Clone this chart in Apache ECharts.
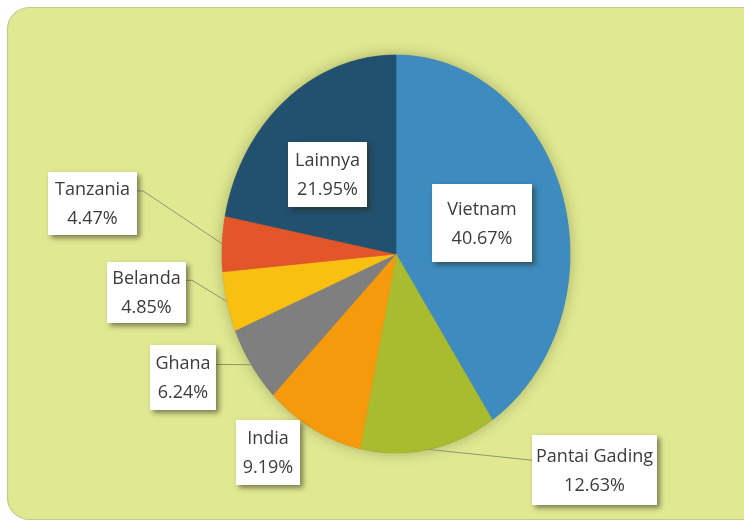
<!DOCTYPE html>
<html>
<head>
<meta charset="utf-8">
<script src="https://cdn.jsdelivr.net/npm/echarts@6/dist/echarts.min.js"></script>
<style>
  html, body { margin: 0; padding: 0; background: #ffffff; }
  #chart { width: 744px; height: 524px; }
</style>
</head>
<body>
<div id="chart"></div>
<script>
// Share of import origins (percent), clockwise from 12 o'clock
const countries = ['Vietnam', 'Pantai Gading', 'India', 'Ghana', 'Belanda', 'Tanzania', 'Lainnya'];
const shares = [40.67, 12.63, 9.19, 6.24, 4.85, 4.47, 21.95];

// Slice colours, same order as the countries
const palette = ['#3e8cbf', '#a9bb2f', '#f59a0c', '#7f7f80', '#f9c012', '#e2562a', '#22506f'];

// Label boxes: [left, top, width, height]; leader: 'left' / 'right' edge of the box, or none
const labelBoxes = [
  { box: [432, 184, 100, 78] },
  { box: [532, 435, 125, 70], leader: 'left' },
  { box: [236, 420, 64, 65] },
  { box: [150, 345, 66, 65], leader: 'right' },
  { box: [107, 262, 79, 61], leader: 'right' },
  { box: [48, 172, 89, 63], leader: 'right' },
  { box: [288, 142, 79, 65] }
];

// Elliptical pie geometry
const CX = 396, CY = 254, RX = 174, RY = 199;
const total = shares.reduce((a, b) => a + b, 0);
const starts = [];
shares.reduce((acc, v, i) => { starts[i] = acc; return acc + v; }, 0);

function ellipsePoint(t) {
  // t: angle in radians, clockwise from the top
  return [CX + RX * Math.sin(t), CY - RY * Math.cos(t)];
}

const FONT = '18px "Open Sans", "Noto Sans", sans-serif';

function renderSlice(params, api) {
  const i = params.dataIndex;
  const a0 = starts[i] / total * Math.PI * 2;
  const a1 = (starts[i] + api.value(1)) / total * Math.PI * 2;
  const steps = Math.max(8, Math.ceil((a1 - a0) / 0.01));
  const pts = [[CX, CY]];
  for (let k = 0; k <= steps; k++) pts.push(ellipsePoint(a0 + (a1 - a0) * k / steps));
  return {
    type: 'polygon',
    shape: { points: pts },
    style: { fill: palette[i], stroke: palette[i], lineWidth: 0.6 }
  };
}

function renderLabel(params, api) {
  const i = params.dataIndex;
  const mid = (starts[i] + api.value(1) / 2) / total * Math.PI * 2;
  const L = labelBoxes[i];
  const [bx, by, bw, bh] = L.box;
  const children = [];
  if (L.leader) {
    const edge = ellipsePoint(mid);
    let pts;
    if (L.leader === 'right') {
      const sx = bx + bw, ey = by + bh * 0.3;
      pts = [[sx, ey], [sx + 6, ey], edge];
    } else {
      pts = [edge, [bx, by + bh * 0.36]];
    }
    children.push({
      type: 'polyline',
      shape: { points: pts },
      style: { stroke: '#8e9670', lineWidth: 1, fill: null }
    });
  }
  children.push({
    type: 'rect',
    shape: { x: bx, y: by, width: bw, height: bh },
    style: {
      fill: '#ffffff',
      shadowBlur: 5,
      shadowOffsetX: 3,
      shadowOffsetY: 3,
      shadowColor: 'rgba(40,40,20,0.55)'
    }
  });
  children.push({
    type: 'text',
    style: {
      text: api.value(0) + '\n' + api.value(1).toFixed(2) + '%',
      x: bx + bw / 2,
      y: by + bh / 2 + 1,
      align: 'center',
      verticalAlign: 'middle',
      font: FONT,
      lineHeight: 29,
      fill: '#3c3c3c'
    }
  });
  return { type: 'group', children };
}

const seriesData = countries.map((c, i) => [c, shares[i]]);

const chart = echarts.init(document.getElementById('chart'), null, { renderer: 'canvas' });
chart.setOption({
  animation: false,
  backgroundColor: '#ffffff',
  graphic: [
    {
      type: 'rect',
      z: -10,
      shape: { x: 7.5, y: 7.5, width: 800, height: 512, r: 22 },
      style: { fill: '#e0e892', stroke: '#c4c98c', lineWidth: 1.2 }
    },
    {
      // soft halo under the pie
      type: 'ellipse',
      z: -5,
      shape: { cx: CX, cy: CY, rx: RX, ry: RY },
      style: { fill: '#6d7a5a', shadowBlur: 14, shadowColor: 'rgba(60,70,20,0.35)' }
    }
  ],
  series: [
    {
      type: 'custom',
      coordinateSystem: 'none',
      renderItem: renderSlice,
      data: seriesData,
      z: 2,
      silent: true
    },
    {
      type: 'custom',
      coordinateSystem: 'none',
      renderItem: renderLabel,
      data: seriesData,
      z: 5,
      silent: true
    }
  ]
});
</script>
</body>
</html>
